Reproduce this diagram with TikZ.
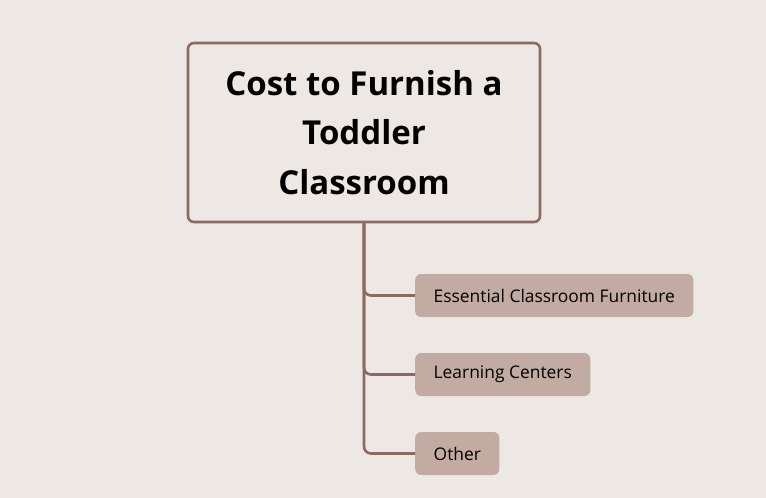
\documentclass[tikz,border=0pt]{standalone}
\usepackage{fontspec}
\setmainfont{Open Sans}
\definecolor{bgpaper}{HTML}{EEE8E5}
\definecolor{linebrown}{HTML}{8B6A61}
\definecolor{leaffill}{HTML}{C2ABA3}

\begin{document}
\begin{tikzpicture}[x=1pt, y=-1pt,
  rootbox/.style = {draw=linebrown, line width=2.6pt, rounded corners=6pt,
    minimum width=352pt, minimum height=179pt, align=center,
    font=\fontsize{33}{49.5}\selectfont\bfseries},
  leafbox/.style = {fill=leaffill, rounded corners=6pt, anchor=west,
    minimum height=43pt, inner xsep=18.5pt, font=\fontsize{17.4}{20}\selectfont},
  branch/.style = {draw=linebrown, line width=2.6pt, rounded corners=7pt}]
\fill[bgpaper] (0,0) rectangle (766,498);
\useasboundingbox (0,0) rectangle (766,498);
\path (364,132.5) node[rootbox] (root) {Cost to Furnish a\\Toddler\\Classroom};
\path (415,295.5) node[leafbox] (ess) {Essential Classroom Furniture};
\path (415,374.5) node[leafbox] (learn) {Learning Centers};
\path (415,453.5) node[leafbox] (other) {Other};
\draw[branch] (root.south) |- (ess.west);
\draw[branch] (root.south) |- (learn.west);
\draw[branch] (root.south) |- (other.west);
\end{tikzpicture}
\end{document}
